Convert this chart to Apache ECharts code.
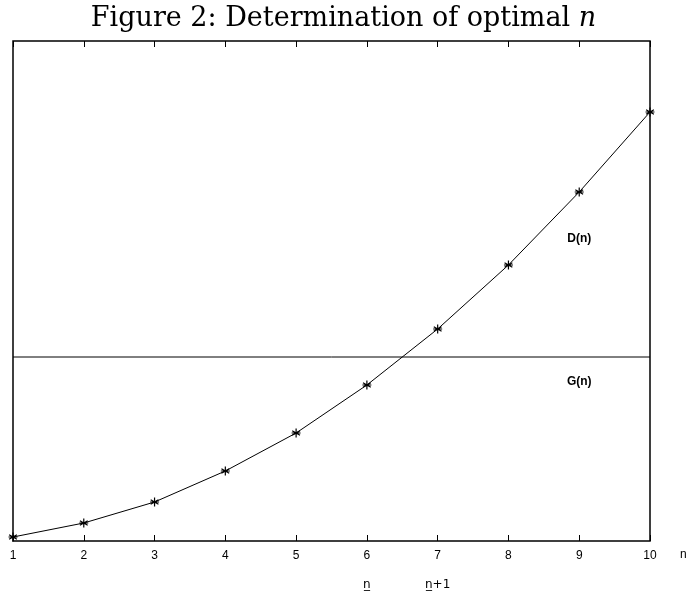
<!DOCTYPE html>
<html>
<head>
<meta charset="utf-8">
<script src="https://cdn.jsdelivr.net/npm/echarts@6/dist/echarts.min.js"></script>
<style>
  html, body { margin: 0; padding: 0; background: #fff; }
  #chart { width: 687px; height: 596px; }
</style>
</head>
<body>
<div id="chart"></div>
<script>
// n values and the two curves (arbitrary y units)
const nValues = [1, 2, 3, 4, 5, 6, 7, 8, 9, 10];
const dValues = [4, 18, 39, 70, 108, 156, 212, 276, 349, 429];
const gValue = 184;
const yMax = 500;
// extra labels under the axis marking n and n+1
const markLabels = { 6: 'n\u0332', 7: 'n\u0332+1' };

const chart = echarts.init(document.getElementById('chart'));

const starPath = 'path://M0,-5L0,5M-4.33,-2.5L4.33,2.5M-4.33,2.5L4.33,-2.5M-5,0L5,0';
const sans = 'Liberation Sans, Arial, sans-serif';

const option = {
  animation: false,
  title: {
    text: 'Figure 2: Determination of optimal {i|n}',
    left: 'center',
    top: 0,
    textStyle: {
      fontFamily: 'DejaVu Serif, serif',
      fontSize: 27,
      fontWeight: 'normal',
      color: '#000',
      rich: {
        i: { fontFamily: 'DejaVu Serif, serif', fontStyle: 'italic', fontSize: 27 }
      }
    }
  },
  grid: {
    left: 13, right: 37, top: 41, bottom: 55,
    outerBoundsMode: 'none',
    containLabel: false,
    show: true,
    borderColor: '#000',
    borderWidth: 1.5
  },
  xAxis: [
    {
      type: 'value', min: 1, max: 10, interval: 1,
      position: 'bottom',
      name: 'n',
      nameLocation: 'end',
      nameGap: 30,
      nameTextStyle: { fontFamily: sans, fontSize: 12, color: '#000', verticalAlign: 'top', padding: [8, 0, 0, 0] },
      axisLine: { show: false },
      axisTick: { inside: true, length: 6, lineStyle: { color: '#000' } },
      axisLabel: { fontFamily: sans, fontSize: 12, color: '#000', margin: 9 },
      splitLine: { show: false }
    },
    {
      type: 'value', min: 1, max: 10, interval: 1,
      position: 'top',
      axisLine: { show: false },
      axisTick: { inside: true, length: 6, lineStyle: { color: '#000' } },
      axisLabel: { show: false },
      splitLine: { show: false }
    },
    {
      type: 'value', min: 1, max: 10, interval: 1,
      position: 'bottom',
      offset: 30,
      axisLine: { show: false },
      axisTick: { show: false },
      axisLabel: {
        fontFamily: 'DejaVu Sans, sans-serif', fontSize: 12, color: '#000',
        formatter: v => markLabels[v] || ''
      },
      splitLine: { show: false }
    }
  ],
  yAxis: {
    type: 'value', min: 0, max: yMax,
    axisLine: { show: false },
    axisTick: { show: false },
    axisLabel: { show: false },
    splitLine: { show: false }
  },
  series: [
    {
      name: 'D(n)',
      type: 'line',
      xAxisIndex: 0,
      data: nValues.map((n, i) => [n, dValues[i]]),
      symbol: starPath,
      symbolSize: 9,
      showAllSymbol: true,
      lineStyle: { color: '#000', width: 1 },
      itemStyle: { color: 'none', borderColor: '#000', borderWidth: 1.2 },
      markPoint: {
        symbol: 'circle', symbolSize: 0,
        label: { show: true, position: 'inside', fontFamily: sans, fontSize: 12, fontWeight: 'bold', color: '#000' },
        data: [
          { coord: [9, 302], value: 'D(n)', label: { formatter: 'D(n)' } },
          { coord: [9, 159], value: 'G(n)', label: { formatter: 'G(n)' } }
        ]
      }
    },
    {
      name: 'G(n)',
      type: 'line',
      xAxisIndex: 0,
      data: [[nValues[0], gValue], [nValues[nValues.length - 1], gValue]],
      symbol: 'none',
      lineStyle: { color: '#000', width: 1 }
    }
  ]
};

chart.setOption(option);
</script>
</body>
</html>
